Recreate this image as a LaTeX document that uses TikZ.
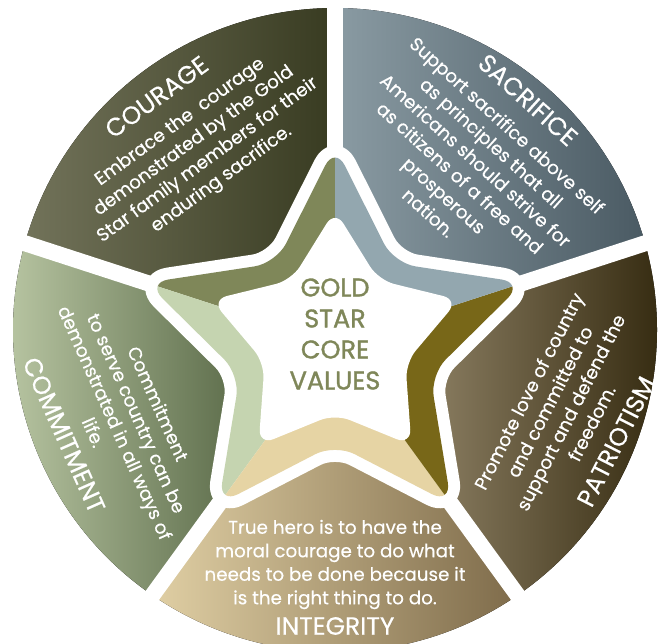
\documentclass[tikz,border=0pt]{standalone}
\usepackage{fontspec}
\setmainfont{Poppins}
\newfontfamily\centerfont[FakeBold=1.3]{Poppins}
\newfontfamily\bodyfont[FakeBold=0.4]{Poppins}
\usetikzlibrary{calc}
\definecolor{courL}{RGB}{114,115,90}
\definecolor{courR}{RGB}{56,59,33}
\definecolor{sacL}{RGB}{138,155,163}
\definecolor{sacR}{RGB}{74,90,99}
\definecolor{patL}{RGB}{140,127,99}
\definecolor{patR}{RGB}{46,36,10}
\definecolor{intL}{RGB}{224,207,164}
\definecolor{intR}{RGB}{126,107,74}
\definecolor{comL}{RGB}{191,204,169}
\definecolor{comR}{RGB}{90,106,72}
\definecolor{bandCour}{RGB}{127,135,89}
\definecolor{bandSac}{RGB}{147,167,175}
\definecolor{bandPat}{RGB}{120,103,24}
\definecolor{bandInt}{RGB}{230,212,164}
\definecolor{bandCom}{RGB}{197,212,176}
\definecolor{centertext}{RGB}{127,135,89}
\newcommand\mystarpath[4]{[rounded corners=#4] ($(#1)+(90:#2)$) -- ($(#1)+(126:#3)$) -- ($(#1)+(162:#2)$) -- ($(#1)+(198:#3)$) -- ($(#1)+(234:#2)$) -- ($(#1)+(270:#3)$) -- ($(#1)+(306:#2)$) -- ($(#1)+(342:#3)$) -- ($(#1)+(18:#2)$) -- ($(#1)+(54:#3)$) -- cycle}
\tikzset{
  bodytext/.style={text=white, align=center, font=\bodyfont\fontsize{18.3}{23.5}\selectfont, inner sep=0pt},
  titletext/.style={text=white, font=\bodyfont\fontsize{25}{28}\selectfont, inner sep=0pt},
  gapline/.style={white, line width=16pt},
}
\begin{document}
\begin{tikzpicture}[x=1pt,y=1pt]
\useasboundingbox (0,0) rectangle (668,643);
\coordinate (C) at (335,313);
\coordinate (S) at (335,299);
\coordinate (SI) at (335,303);
% sectors
\fill[left color=courL, right color=courR] ($(C)+(90:322)$) arc[start angle=90, end angle=164.37, radius=322] -- ($(S)+(162:150)$) -- ($(S)+(126:110)$) -- ($(S)+(90:150)$) -- cycle;
\fill[left color=comL, right color=comR] ($(C)+(164.37:322)$) arc[start angle=164.37, end angle=235.47, radius=322] -- ($(S)+(234:150)$) -- ($(S)+(198:110)$) -- ($(S)+(162:150)$) -- cycle;
\fill[left color=intL, right color=intR] ($(C)+(235.47:322)$) arc[start angle=235.47, end angle=304.53, radius=322] -- ($(S)+(306:150)$) -- ($(S)+(270:110)$) -- ($(S)+(234:150)$) -- cycle;
\fill[left color=patL, right color=patR] ($(C)+(304.53:322)$) arc[start angle=304.53, end angle=375.63, radius=322] -- ($(S)+(18:150)$) -- ($(S)+(342:110)$) -- ($(S)+(306:150)$) -- cycle;
\fill[left color=sacL, right color=sacR] ($(C)+(15.63:322)$) arc[start angle=15.63, end angle=90, radius=322] -- ($(S)+(90:150)$) -- ($(S)+(54:110)$) -- ($(S)+(18:150)$) -- cycle;
% gaps
\foreach \a in {90,162,234,306,18} \draw[gapline] (S) -- ($(S)+(\a:360)$);
% star white border
\filldraw[white, line width=24pt, line join=round] \mystarpath{S}{198}{100}{22pt};
% star band
\begin{scope}
\clip \mystarpath{S}{198}{100}{22pt};
\fill[bandCour] (S) -- ($(S)+(90:300)$) -- ($(S)+(126:400)$) -- ($(S)+(162:300)$) -- cycle;
\fill[bandCom] (S) -- ($(S)+(162:300)$) -- ($(S)+(198:400)$) -- ($(S)+(234:300)$) -- cycle;
\fill[bandInt] (S) -- ($(S)+(234:300)$) -- ($(S)+(270:400)$) -- ($(S)+(306:300)$) -- cycle;
\fill[bandPat] (S) -- ($(S)+(306:300)$) -- ($(S)+(342:400)$) -- ($(S)+(18:300)$) -- cycle;
\fill[bandSac] (S) -- ($(S)+(18:300)$) -- ($(S)+(54:400)$) -- ($(S)+(90:300)$) -- cycle;
\end{scope}
% inner white star
\fill[white] \mystarpath{SI}{130}{74}{16pt};
% center text
\node[text=centertext, align=center, inner sep=0pt, font=\centerfont\fontsize{25.5}{31}\selectfont] (core) at (335,309) {GOLD\\STAR\\CORE\\VALUES};
% sector texts
\node[bodytext, rotate=36] (courBody) at (201,492) {Embrace the~ courage\\demonstrated by the Gold\\Star family members for their\\enduring sacrifice.};
\node[titletext, rotate=36] (courTitle) at (156.5,546) {COURAGE};
\node[bodytext, rotate=-42] (sacBody) at (468,474) {Support sacrifice above self\\as principles that all\\Americans should strive for\\as citizens of a free and\\prosperous\\nation.};
\node[titletext, rotate=-42] (sacTitle) at (528,543) {SACRIFICE};
\node[bodytext, rotate=63] (patBody) at (560,236) {Promote love of country\\and committed to\\support and defend the\\freedom.};
\node[titletext, rotate=63] (patTitle) at (616,201.5) {PATRIOTISM};
\node[bodytext, rotate=-66] (comBody) at (126,225) {Commitment\\to serve country can be\\demonstrated in all ways of\\life.};
\node[titletext, rotate=-66] (comTitle) at (64,208) {COMMITMENT};
\node[bodytext] (intBody) at (335,78.5) {True hero is to have the\\moral courage to do what\\needs to be done because it\\is the right thing to do.};
\node[titletext] (intTitle) at (335,17) {INTEGRITY};
\end{tikzpicture}
\end{document}
